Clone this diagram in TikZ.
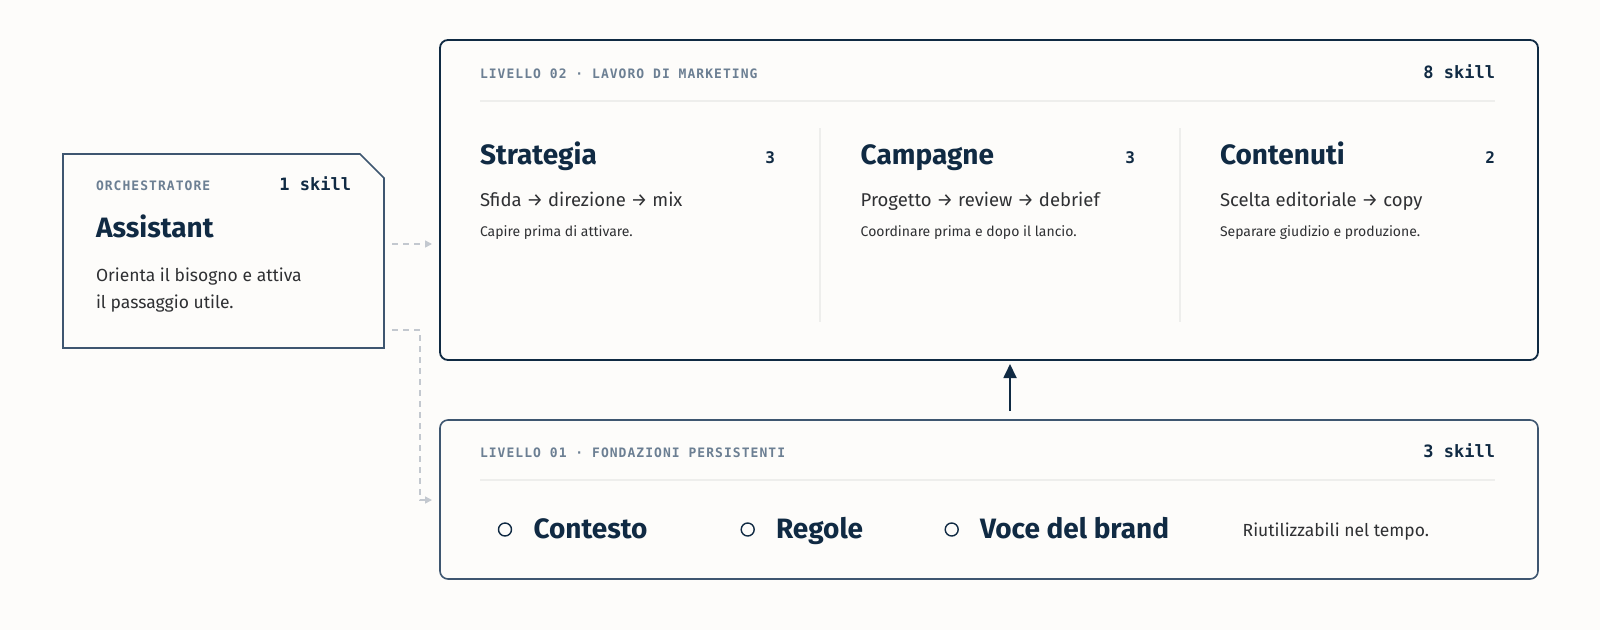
\documentclass[tikz,border=0pt]{standalone}
\usepackage{fontspec}
\setmainfont{Fira Sans}
\newfontfamily\labfont[LetterSpace=8]{DejaVu Sans Mono}
\newfontfamily\cntfont{DejaVu Sans Mono}
\usetikzlibrary{arrows.meta,fit,calc}
\definecolor{navy}{HTML}{102A43}
\definecolor{slate}{HTML}{3E5670}
\definecolor{labgrey}{HTML}{6C7F93}
\definecolor{bodytxt}{HTML}{2F3033}
\definecolor{divcol}{HTML}{EEEEEC}
\definecolor{dashcol}{HTML}{C3C8CF}
\definecolor{bgcol}{HTML}{FDFCFA}
\begin{document}
\begin{tikzpicture}[x=1pt,y=-1pt,
  every node/.style={inner sep=0pt,outer sep=0pt},
  lab/.style={anchor=base west,font=\labfont\bfseries\fontsize{13}{15}\selectfont,text=labgrey},
  cnt/.style={anchor=base east,font=\cntfont\bfseries\fontsize{17}{19}\selectfont,text=navy},
  num/.style={anchor=base east,font=\cntfont\bfseries\fontsize{16}{18}\selectfont,text=navy},
  ttl/.style={anchor=base west,font=\bfseries\fontsize{28}{30}\selectfont,text=navy},
  flow/.style={anchor=base west,font=\fontsize{18.5}{20}\selectfont,text=bodytxt},
  desc/.style={anchor=base west,font=\fontsize{17.5}{20}\selectfont,text=bodytxt},
  note/.style={anchor=base west,font=\fontsize{14}{16}\selectfont,text=bodytxt},
  divline/.style={draw=divcol,line width=1.5pt},
  dashconn/.style={draw=dashcol,line width=1.5pt,dash pattern=on 6pt off 5pt,
    -{Triangle[width=7pt,length=7pt,fill=dashcol]}},
  uparrow/.style={draw=navy,line width=1.8pt,-{Triangle[width=13pt,length=14pt]}},
  dot/.style={circle,draw=navy,line width=1.4pt,minimum size=13pt}
]
\fill[bgcol] (0,0) rectangle (1600,630);
\useasboundingbox (0,0) rectangle (1600,630);

% Assistant box
\draw[slate,line width=1.6pt,fill=bgcol] (63,154) -- (360,154) -- (384,178) -- (384,348) -- (63,348) -- cycle;
\node[fit={(63,154) (384,348)}] (assist) {};
\node[lab] (orch) at (96,190) {ORCHESTRATORE};
\node[cnt] (orchn) at (351,190) {1 skill};
\node[ttl] (asst) at (96,237.3) {Assistant};
\node[desc] (asd1) at (96,281.7) {Orienta il bisogno e attiva};
\node[desc] (asd2) at (96,308.3) {il passaggio utile.};

% Level 02 box
\node[fit={(440,40) (1538,360)},draw=navy,line width=1.8pt,rounded corners=8pt] (l2) {};
\node[lab] (l2lab) at (480,78.3) {LIVELLO 02 · LAVORO DI MARKETING};
\node[cnt] (l2n) at (1495,78.7) {8 skill};
\draw[divline] (480,101) -- (1495,101);
\draw[divline] (820,128) -- (820,322);
\draw[divline] (1180,128) -- (1180,322);

\node[ttl] (c1t) at (480,164) {Strategia};
\node[num] (c1n) at (775,163.3) {3};
\node[flow] (c1f) at (480,206.7) {Sfida → direzione → mix};
\node[note] (c1d) at (480,236.7) {Capire prima di attivare.};

\node[ttl] (c2t) at (860.7,164) {Campagne};
\node[num] (c2n) at (1135,163.3) {3};
\node[flow] (c2f) at (860.7,206.7) {Progetto → review → debrief};
\node[note] (c2d) at (860.7,236.7) {Coordinare prima e dopo il lancio.};

\node[ttl] (c3t) at (1220,164) {Contenuti};
\node[num] (c3n) at (1495,163.3) {2};
\node[flow] (c3f) at (1220,206.7) {Scelta editoriale → copy};
\node[note] (c3d) at (1220,236.7) {Separare giudizio e produzione.};

% Level 01 box
\node[fit={(440,420) (1538,579)},draw=slate,line width=1.6pt,rounded corners=8pt] (l1) {};
\node[lab] (l1lab) at (480,457) {LIVELLO 01 · FONDAZIONI PERSISTENTI};
\node[cnt] (l1n) at (1495,457.3) {3 skill};
\draw[divline] (480,480) -- (1495,480);
\node[dot] (d1) at (505,529.5) {};
\node[dot] (d2) at (747.7,529.5) {};
\node[dot] (d3) at (951.7,529.5) {};
\node[ttl] (f1) at (533.5,538) {Contesto};
\node[ttl] (f2) at (776,538) {Regole};
\node[ttl] (f3) at (980,538) {Voce del brand};
\node[desc] (f4) at (1242.7,536.7) {Riutilizzabili nel tempo.};

% connectors
\coordinate (ax) at (1010,0);
\draw[uparrow] ([yshift=9pt]l1.north -| ax) -- ([yshift=-4pt]l2.south -| ax);
\coordinate (s1) at (392,244);
\coordinate (s2) at (392,330);
\coordinate (bend) at (420,330);
\coordinate (t2) at (432,500);
\draw[dashconn] (s1) -- ([xshift=-8pt]l2.west |- s1);
\draw[dashconn] (s2) -- (bend) -- (bend |- t2) -- (t2);
\end{tikzpicture}
\end{document}
